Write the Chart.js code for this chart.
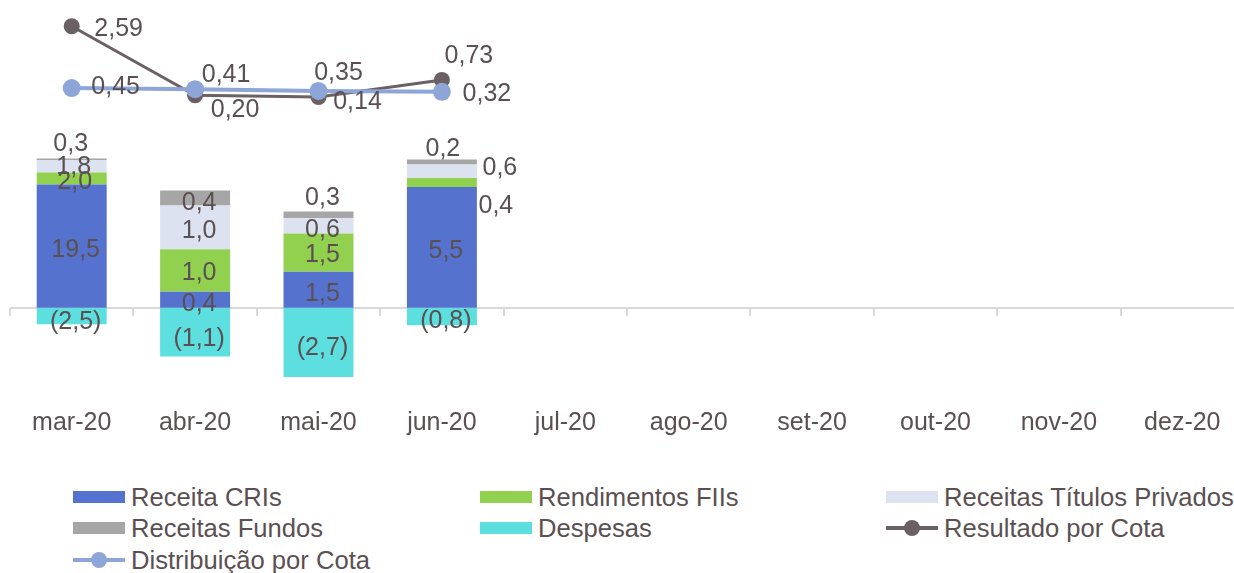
<!DOCTYPE html>
<html lang="pt-BR">
<head>
<meta charset="utf-8">
<script src="https://cdn.jsdelivr.net/npm/chart.js@4.4.1/dist/chart.umd.min.js"></script>
<style>
  html, body { margin: 0; padding: 0; background: #fff; overflow: hidden; }
  #wrap {
    position: relative; width: 1234px; height: 573px; overflow: hidden;
    font-family: "Liberation Sans", Arial, sans-serif; color: #5a5052;
  }
  #chart { position: absolute; left: 0; top: 0; }
  .legend-item {
    position: absolute; display: flex; align-items: center;
    height: 30px; font-size: 25.6px; white-space: nowrap;
  }
  .legend-box { width: 52px; height: 12px; margin-right: 6px; }
  .legend-line { position: relative; width: 52px; height: 20px; margin-right: 6px; }
  .legend-line .bar { position: absolute; left: 0; right: 0; top: 8px; height: 4px; }
  .legend-line .dot { position: absolute; left: 18px; top: 2px; width: 16px; height: 16px; border-radius: 50%; }
  #fonte { position: absolute; left: 1045px; top: 569px; font-size: 20px; white-space: nowrap; }
</style>
</head>
<body>
<div id="wrap">
  <canvas id="chart" width="1254" height="450"></canvas>
  <div id="chart-legend"></div>
  <div id="fonte">Fonte: BV</div>
</div>
<script>
const TEXT_COLOR = "#5a5052";

const months = ["mar-20", "abr-20", "mai-20", "jun-20", "jul-20", "ago-20", "set-20", "out-20", "nov-20", "dez-20"];

// valores mostrados nos rótulos (R$ milhões)
const receitaCRIs = [19.5, 0.4, 1.5, 5.5];
const rendimentosFIIs = [2.0, 1.0, 1.5, 0.4];
const receitasTitulos = [1.8, 1.0, 0.6, 0.6];
const receitasFundos = [0.3, 0.4, 0.3, 0.2];
const despesas = [-2.5, -1.1, -2.7, -0.8];

// altura de cada segmento como aparece no gráfico (escala própria das barras)
const alturaCRIs = [24.6, 3.2, 7.2, 24.1];
const alturaFIIs = [2.4, 8.5, 7.6, 1.8];
const alturaTitulos = [2.5, 8.7, 3.1, 2.7];
const alturaFundos = [0.3, 3.0, 1.3, 1.0];
const alturaDespesas = [-3.3, -9.7, -13.8, -3.5];

// R$ por cota
const resultadoPorCota = [2.59, 0.20, 0.14, 0.73];
const distribuicaoPorCota = [0.45, 0.41, 0.35, 0.32];

const COLORS = {
  cri: "#5472ce",
  fii: "#92d050",
  titulos: "#dce2f0",
  fundos: "#a6a6a6",
  despesas: "#5ddedf",
  resultado: "#6b6064",
  distribuicao: "#8ea5d8",
  axis: "#d9d9d9",
};

// deslocamento dos rótulos (px) em relação ao centro do segmento / ao ponto
const offsets = {
  cri: [[4, 2], [4, 2], [4, 2], [4, 2]],
  fii: [[3, 2], [4, 1], [4, 0], [54, 22]],
  titulos: [[2, -1], [4, 2], [4, 2], [58, -5]],
  fundos: [[-1, -17], [4, 3], [4, -19], [1, -15]],
  despesas: [[4, 4], [4, 5], [4, 4], [4, 3]],
  resultado: [[47, 1], [40, 13], [39, 3], [27, -26]],
  distribuicao: [[44, -3], [31, -16], [20, -20], [45, 0]],
};

const fmt1 = (v) => {
  const s = Math.abs(v).toFixed(1).replace(".", ",");
  return v < 0 ? `(${s})` : s;
};
const fmt2 = (v) => v.toFixed(2).replace(".", ",");

function barSet(label, heights, values, color, key) {
  return {
    type: "bar",
    label,
    data: heights,
    backgroundColor: color,
    borderWidth: 0,
    stack: "receitas",
    yAxisID: "y",
    order: 2,
    categoryPercentage: 0.567,
    barPercentage: 1,
    labelValues: values,
    labelOffsets: offsets[key],
    formatLabel: fmt1,
  };
}

function lineSet(label, values, color, width, radius, key, order) {
  return {
    type: "line",
    label,
    data: values,
    borderColor: color,
    backgroundColor: color,
    borderWidth: width,
    pointRadius: radius,
    pointHoverRadius: radius,
    pointBorderWidth: 0,
    yAxisID: "y2",
    order,
    tension: 0,
    clip: false,
    labelValues: values,
    labelOffsets: offsets[key],
    formatLabel: fmt2,
  };
}

const datasets = [
  lineSet("Distribuição por Cota", distribuicaoPorCota, COLORS.distribuicao, 4, 9, "distribuicao", 0),
  lineSet("Resultado por Cota", resultadoPorCota, COLORS.resultado, 3, 8, "resultado", 1),
  barSet("Receita CRIs", alturaCRIs, receitaCRIs, COLORS.cri, "cri"),
  barSet("Rendimentos FIIs", alturaFIIs, rendimentosFIIs, COLORS.fii, "fii"),
  barSet("Receitas Títulos Privados", alturaTitulos, receitasTitulos, COLORS.titulos, "titulos"),
  barSet("Receitas Fundos", alturaFundos, receitasFundos, COLORS.fundos, "fundos"),
  barSet("Despesas", alturaDespesas, despesas, COLORS.despesas, "despesas"),
];

// eixo horizontal na altura do zero das barras, com marcas entre as categorias
const zeroAxis = {
  id: "zeroAxis",
  beforeDatasetsDraw(chart) {
    const { ctx, scales: { x, y } } = chart;
    const y0 = Math.round(y.getPixelForValue(0));
    const step = (x.right - x.left) / chart.data.labels.length;
    ctx.save();
    ctx.strokeStyle = COLORS.axis;
    ctx.lineWidth = 2;
    ctx.beginPath();
    ctx.moveTo(x.left, y0);
    ctx.lineTo(x.right, y0);
    for (let i = 0; i <= chart.data.labels.length; i++) {
      const xb = Math.round(x.left + i * step);
      ctx.moveTo(xb, y0);
      ctx.lineTo(xb, y0 + 8);
    }
    ctx.stroke();
    ctx.restore();
  },
};

const valueLabels = {
  id: "valueLabels",
  afterDatasetsDraw(chart) {
    const ctx = chart.ctx;
    ctx.save();
    ctx.font = "25px 'Liberation Sans', Arial, sans-serif";
    ctx.fillStyle = TEXT_COLOR;
    ctx.textAlign = "center";
    ctx.textBaseline = "middle";
    chart.data.datasets.forEach((ds, di) => {
      const meta = chart.getDatasetMeta(di);
      meta.data.forEach((el, i) => {
        const v = ds.labelValues[i];
        if (v == null) return;
        const [dx, dy] = ds.labelOffsets[i];
        const cy = ds.type === "line" ? el.y : (el.y + el.base) / 2;
        // +2: centro visual dos algarismos fica acima do "middle" do canvas
        ctx.fillText(ds.formatLabel(v), el.x + dx, cy + dy + 2);
      });
    });
    ctx.restore();
  },
};

new Chart(document.getElementById("chart"), {
  data: { labels: months, datasets },
  options: {
    responsive: false,
    animation: false,
    layout: { autoPadding: false, padding: { left: 10, right: 10, top: 0, bottom: 0 } },
    scales: {
      x: {
        stacked: true,
        grid: { display: false, drawTicks: false },
        border: { display: false },
        ticks: {
          color: TEXT_COLOR,
          padding: 12,
          font: { family: "'Liberation Sans', Arial, sans-serif", size: 25 },
          maxRotation: 0,
          autoSkip: false,
        },
      },
      y: { stacked: true, display: false, min: -17.6, max: 61.4 },
      y2: { display: false, position: "right", min: -10.22, max: 3.5 },
    },
    plugins: {
      legend: { display: false },
      tooltip: { enabled: false },
    },
  },
  plugins: [zeroAxis, valueLabels],
});

function renderLegend(el, items) {
  el.innerHTML = items
    .map((i) => {
      const swatch = i.line
        ? `<span class="legend-line"><span class="bar" style="background:${i.color}"></span><span class="dot" style="background:${i.color}"></span></span>`
        : `<span class="legend-box" style="background:${i.color}"></span>`;
      return `<div class="legend-item" style="left:${i.x}px;top:${i.y}px">${swatch}${i.label}</div>`;
    })
    .join("");
}

renderLegend(document.getElementById("chart-legend"), [
  { color: COLORS.cri, label: "Receita CRIs", x: 73, y: 482 },
  { color: COLORS.fii, label: "Rendimentos FIIs", x: 480, y: 482 },
  { color: COLORS.titulos, label: "Receitas Títulos Privados", x: 886, y: 482 },
  { color: COLORS.fundos, label: "Receitas Fundos", x: 73, y: 513 },
  { color: COLORS.despesas, label: "Despesas", x: 480, y: 513 },
  { color: COLORS.resultado, label: "Resultado por Cota", x: 886, y: 513, line: true },
  { color: COLORS.distribuicao, label: "Distribuição por Cota", x: 73, y: 545, line: true },
]);
</script>
</body>
</html>
